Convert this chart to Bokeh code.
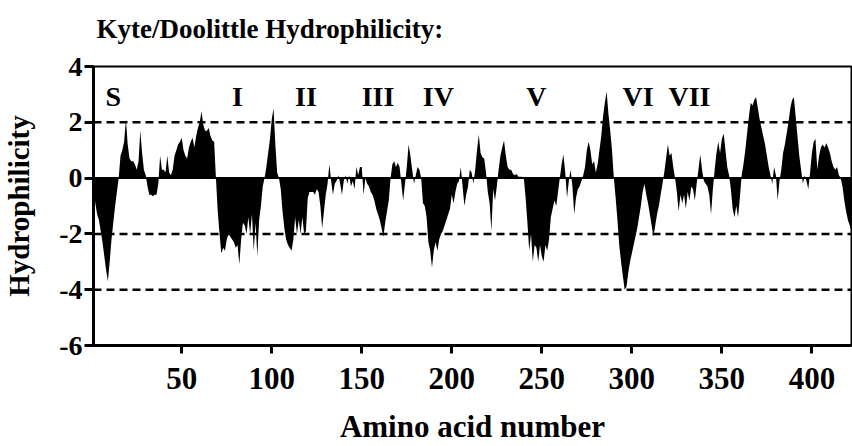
from bokeh.plotting import figure
from bokeh.models import Range1d, Span, FixedTicker, Title
from bokeh.core.properties import value
from bokeh.embed import file_html
from bokeh.resources import INLINE

# ---- data ----
residue = list(range(1, 423))
hydrophilicity = [
    -0.3, -0.9, -1.3, -1.5, -1.9, -2.3, -2.8, -3.3, -3.7, -3.0,
    -2.2, -1.6, -1.0, -0.5, 0.0, 0.8, 1.0, 1.3, 2.1, 1.2,
    0.7, 0.6, 0.6, 0.5, 0.3, 0.6, 1.7, 0.9, 0.3, 0.1,
    -0.3, -0.6, -0.6, -0.65, -0.6, -0.6, -0.2, 0.8, 0.3, 0.3,
    0.2, 0.8, 0.2, 0.1, 0.3, 0.8, 1.0, 1.2, 1.3, 1.45,
    1.0, 0.8, 0.7, 1.1, 1.3, 1.45, 1.1, 1.5, 1.8, 2.0,
    2.4, 1.9, 1.7, 1.7, 1.8, 1.5, 1.35, 1.3, 0.0, -1.2,
    -2.0, -2.7, -2.5, -2.6, -2.2, -2.0, -2.1, -2.2, -2.3, -2.5,
    -2.4, -3.1, -2.2, -1.6, -1.7, -2.0, -1.4, -2.0, -1.3, -2.6,
    -1.6, -2.8, -1.5, -1.0, -0.3, 0.0, 0.4, 0.9, 1.4, 2.1,
    2.5, 1.2, 0.2, 0.0, -0.4, -1.2, -1.8, -2.2, -2.4, -2.5,
    -2.6, -2.2, -1.4, -2.0, -1.5, -2.0, -1.4, -2.0, -1.9, -0.7,
    -0.5, -0.5, -0.5, -0.6, -0.4, -0.5, -1.0, -1.8, -1.2, -0.6,
    -0.2, 0.5, -0.1, -0.6, -0.2, -0.1, 0.1, -0.2, -0.6, -0.1,
    0.1, -0.2, 0.1, -0.3, -0.1, -0.4, 0.4, 0.1, 0.4, 0.4,
    -0.6, 0.0, -0.2, -0.3, -0.5, -0.6, -0.8, -1.1, -1.3, -1.5,
    -1.8, -2.1, -1.6, -1.2, -0.8, 0.0, 0.5, 0.6, 0.4, 0.55,
    0.4, -0.2, -0.8, -0.2, 0.4, 1.2, 0.8, 0.3, -0.2, 0.1,
    0.4, 0.3, 0.0, -0.9, -1.0, -1.4, -2.3, -2.6, -3.2, -2.6,
    -2.3, -2.6, -2.2, -2.0, -1.9, -1.7, -1.5, -1.3, -1.1, -0.6,
    -0.9, -0.5, -0.2, -0.1, 0.4, -0.3, -1.0, -0.6, -0.3, 0.3,
    0.2, -0.2, 0.3, 1.0, 1.55, 0.9, 0.75, 0.7, 0.2, -0.5,
    -0.9, -1.9, -0.4, -0.8, -0.3, 0.3, 0.8, 1.1, 1.35, 0.8,
    0.4, 0.3, 0.3, 0.15, 0.1, 0.15, 0.05, 0.05, 0.05, 0.0,
    -0.7, -1.6, -2.6, -2.0, -3.0, -2.4, -2.5, -3.0, -2.4, -2.8,
    -3.0, -2.4, -2.6, -2.2, -1.4, -1.1, -0.8, -1.0, -0.5, 0.0,
    0.5, 0.85, 0.2, -0.7, -0.1, 0.3, -0.3, -1.3, -0.7, -0.4,
    -0.3, -0.1, 0.1, 0.4, 1.0, 1.3, 1.0, 0.5, 0.6, 0.2,
    0.5, 1.0, 1.5, 2.2, 2.7, 3.1, 2.3, 1.7, 1.0, 0.0,
    -0.7, -1.5, -2.4, -3.0, -3.5, -4.0, -3.9, -3.4, -3.0, -2.7,
    -2.4, -2.1, -1.8, -1.4, -1.0, -0.5, -0.2, -0.6, -0.9, -1.3,
    -1.7, -2.1, -1.7, -1.3, -1.0, -0.6, -0.2, 0.2, 0.7, 1.2,
    0.8, 0.9, 0.4, 0.0, -0.5, -1.2, -0.6, -0.9, -0.6, -1.1,
    -0.5, -0.8, -0.3, -0.4, -0.8, -0.2, 0.3, 0.85, 0.3, -0.1,
    -0.2, -0.3, -0.6, -1.3, -0.4, 0.3, 0.9, 1.3, 0.9, 1.4,
    1.6, 1.0, 0.4, 0.1, -0.4, -1.1, -1.4, -1.0, -1.4, -0.7,
    0.1, 0.5, 1.0, 1.6, 2.2, 2.7, 2.6, 2.8, 2.9, 2.5,
    2.1, 1.8, 1.5, 1.2, 0.8, 0.4, 0.1, -0.2, 0.4, 0.1,
    -0.8, -0.1, 0.3, 0.9, 1.2, 1.6, 2.0, 2.5, 2.8, 2.9,
    2.2, 1.5, 0.8, 0.3, -0.2, 0.1, -0.1, -0.4, 0.2, 0.9,
    1.3, 1.4, 0.3, 0.8, 1.1, 1.2, 1.1, 1.25, 1.1, 0.9,
    0.6, 0.4, 0.3, 0.4, 0.1, 0.0, -0.3, -0.8, -1.2, -1.5,
    -1.7, -1.9,
]

region_labels = ["S", "I", "II", "III", "IV", "V", "VI", "VII"]
region_x = [12, 81, 119, 159, 192.5, 247, 303.5, 332]
region_y = [2.93, 2.93, 2.93, 2.93, 2.93, 2.93, 2.93, 2.93]

ref_levels = [2, -2, -4]

x_ticks = [50, 100, 150, 200, 250, 300, 350, 400]
x_tick_labels = ["50", "100", "150", "200", "250", "300", "350", "400"]
y_ticks = [-6, -4, -2, 0, 2, 4]
y_tick_labels = ["-6", "-4", "-2", "0", "2", "4"]

title_text = "Kyte/Doolittle Hydrophilicity:"
x_label = "Amino acid number"
y_label = "Hydrophilicity"

FONT = "Liberation Serif"

p = figure(
    width=852, height=446,
    x_range=Range1d(1, 422), y_range=Range1d(-6, 4),
    output_backend="svg", toolbar_location=None,
    min_border_left=93, min_border_right=1,
    min_border_top=66, min_border_bottom=100,
)
p.background_fill_color = "white"
p.border_fill_color = "white"
p.outline_line_color = "black"
p.outline_line_width = 2
p.grid.visible = False

# spacer (closest to the frame) then the real title above it
p.add_layout(Title(text=" ", text_font_size="1px", standoff=20), "above")
p.add_layout(Title(text=title_text, text_font=FONT, text_font_style="bold",
                   text_font_size="27px", text_color="black", align="left",
                   offset=3, standoff=0), "above")

# filled hydrophilicity profile
p.varea(x=residue, y1=0, y2=hydrophilicity, fill_color="black", fill_alpha=1)

# baseline and dashed reference lines
p.add_layout(Span(location=0, dimension="width", line_color="black", line_width=2))
for lvl in ref_levels:
    p.add_layout(Span(location=lvl, dimension="width", line_color="black",
                      line_width=2.5, line_dash="8 5"))

# region labels
p.text(x=region_x, y=region_y, text=region_labels,
       text_font=value(FONT), text_font_style="bold", text_font_size="28px",
       text_align="center", text_baseline="middle", text_color="black")

# axes
p.xaxis.ticker = FixedTicker(ticks=x_ticks)
p.xaxis.major_label_overrides = {t: l for t, l in zip(x_ticks, x_tick_labels)}
p.yaxis.ticker = FixedTicker(ticks=y_ticks)
p.yaxis.major_label_overrides = {t: l for t, l in zip(y_ticks, y_tick_labels)}

for ax in (p.xaxis[0], p.yaxis[0]):
    ax.axis_line_width = 3
    ax.axis_line_color = "black"
    ax.major_tick_line_width = 3
    ax.major_tick_line_color = "black"
    ax.major_tick_in = 0
    ax.minor_tick_line_color = None
    ax.major_label_text_font = FONT
    ax.major_label_text_font_style = "bold"
    ax.major_label_text_color = "black"
    ax.axis_label_text_font = FONT
    ax.axis_label_text_font_style = "bold"
    ax.axis_label_text_color = "black"

p.xaxis.axis_label = x_label
p.yaxis.axis_label = y_label
p.xaxis.major_tick_out = 8
p.yaxis.major_tick_out = 9
p.xaxis.major_label_text_font_size = "31px"
p.yaxis.major_label_text_font_size = "28px"
p.xaxis.major_label_standoff = 14
p.yaxis.major_label_standoff = 2
p.xaxis.axis_label_text_font_size = "31px"
p.yaxis.axis_label_text_font_size = "29px"
p.xaxis.axis_label_standoff = 17
p.yaxis.axis_label_standoff = 21

open("out.html", "w").write(file_html(p, INLINE))
